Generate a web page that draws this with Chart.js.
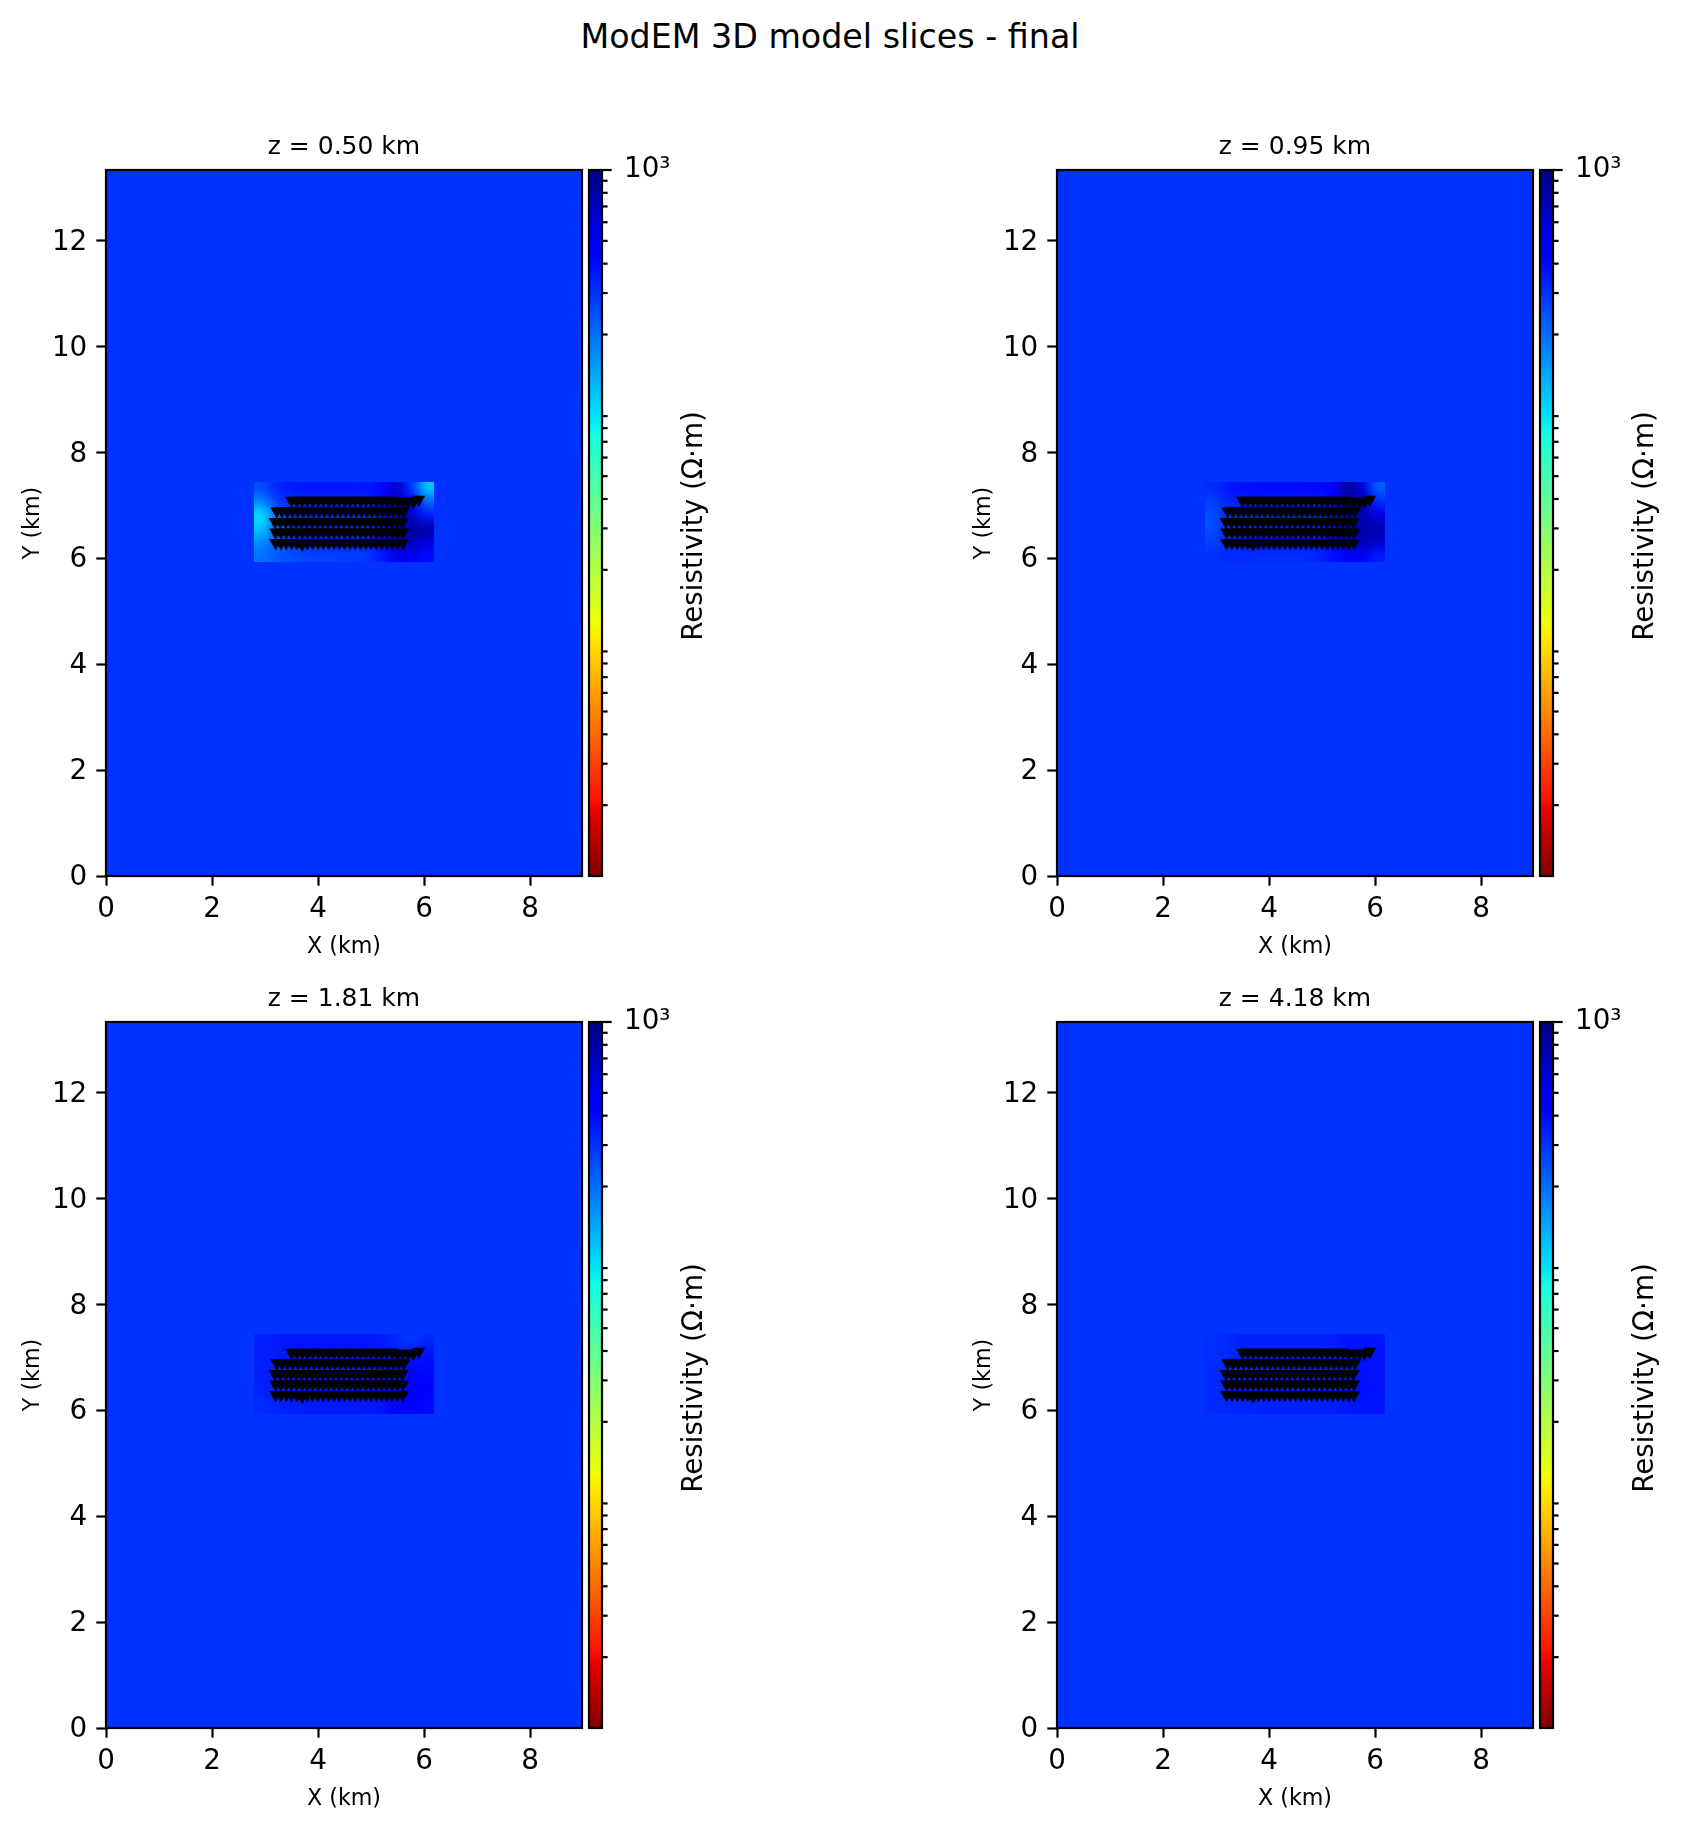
<!DOCTYPE html>
<html><head><meta charset="utf-8">
<script src="https://cdn.jsdelivr.net/npm/chart.js@4.4.1/dist/chart.umd.min.js"></script>
<style>
html,body{margin:0;padding:0;background:#fff;}
body{width:1682px;height:1827px;position:relative;overflow:hidden;font-family:'DejaVu Sans',sans-serif;}
canvas{position:absolute;}
#sup{position:absolute;left:0;width:1660px;top:20px;text-align:center;font-size:33.3px;line-height:1;color:#000;white-space:nowrap;font-family:'DejaVu Sans',sans-serif;}
</style></head><body>
<div id="sup">ModEM 3D model slices - final</div>
<script>
// ---------------- DATA ----------------
const suptitle = 'ModEM 3D model slices - final';
const sliceTitles = ['z = 0.50 km', 'z = 0.95 km', 'z = 1.81 km', 'z = 4.18 km'];
const xAxisLabel = 'X (km)';
const yAxisLabel = 'Y (km)';
const cbarLabel = 'Resistivity (Ω·m)';

// model mesh extent (km) = axis limits
const meshX = [0, 8.98];
const meshY = [0, 13.33];
// background (padding cells) log10 resistivity per slice
const backgroundLog10Rho = [2.477, 2.477, 2.477, 2.477];

// core (station) region extent (km)
const patchX = [2.80, 6.19];
const patchY = [5.92, 7.44];

// core region log10 resistivity, rows from north (top) to south, columns west to east
const slice1Log10Rho = [
  [2.40, 2.51, 2.55, 2.56, 2.56, 2.56, 2.56, 2.56, 2.60, 2.80, 2.47, 2.06],
  [2.21, 2.44, 2.50, 2.52, 2.52, 2.52, 2.52, 2.52, 2.60, 2.78, 2.70, 2.33],
  [1.99, 2.30, 2.48, 2.50, 2.50, 2.50, 2.50, 2.50, 2.60, 2.80, 2.80, 2.55],
  [2.06, 2.33, 2.48, 2.50, 2.50, 2.50, 2.50, 2.50, 2.60, 2.85, 2.90, 2.90],
  [2.21, 2.38, 2.46, 2.50, 2.50, 2.50, 2.50, 2.50, 2.60, 2.80, 2.85, 2.75],
  [2.29, 2.36, 2.40, 2.42, 2.44, 2.44, 2.45, 2.47, 2.55, 2.72, 2.70, 2.60]
];
const slice2Log10Rho = [
  [2.50, 2.56, 2.58, 2.59, 2.59, 2.59, 2.59, 2.60, 2.65, 2.92, 2.75, 2.36],
  [2.44, 2.52, 2.55, 2.55, 2.55, 2.55, 2.55, 2.55, 2.62, 2.88, 2.85, 2.51],
  [2.40, 2.50, 2.55, 2.55, 2.55, 2.55, 2.55, 2.55, 2.62, 2.85, 2.88, 2.74],
  [2.40, 2.50, 2.55, 2.55, 2.55, 2.55, 2.55, 2.55, 2.62, 2.85, 2.90, 2.87],
  [2.44, 2.50, 2.53, 2.55, 2.55, 2.55, 2.55, 2.55, 2.62, 2.80, 2.85, 2.80],
  [2.48, 2.50, 2.50, 2.50, 2.50, 2.50, 2.50, 2.52, 2.58, 2.68, 2.68, 2.55]
];
const slice3Log10Rho = [
  [2.53, 2.55, 2.56, 2.56, 2.56, 2.56, 2.56, 2.56, 2.55, 2.50, 2.47, 2.52],
  [2.53, 2.55, 2.56, 2.56, 2.56, 2.56, 2.56, 2.56, 2.56, 2.56, 2.55, 2.58],
  [2.53, 2.55, 2.56, 2.56, 2.56, 2.56, 2.56, 2.56, 2.58, 2.60, 2.60, 2.60],
  [2.53, 2.55, 2.56, 2.56, 2.56, 2.56, 2.56, 2.56, 2.58, 2.60, 2.62, 2.62],
  [2.52, 2.54, 2.55, 2.56, 2.56, 2.56, 2.56, 2.56, 2.58, 2.62, 2.63, 2.62],
  [2.50, 2.52, 2.54, 2.55, 2.55, 2.55, 2.55, 2.55, 2.57, 2.62, 2.64, 2.60]
];
const slice4Log10Rho = [
  [2.49, 2.51, 2.53, 2.53, 2.53, 2.53, 2.53, 2.53, 2.54, 2.57, 2.57, 2.56],
  [2.49, 2.51, 2.53, 2.53, 2.53, 2.53, 2.53, 2.53, 2.54, 2.57, 2.58, 2.57],
  [2.50, 2.52, 2.53, 2.53, 2.53, 2.53, 2.53, 2.53, 2.54, 2.57, 2.58, 2.57],
  [2.50, 2.52, 2.53, 2.53, 2.53, 2.53, 2.53, 2.53, 2.54, 2.57, 2.58, 2.57],
  [2.50, 2.52, 2.53, 2.53, 2.53, 2.53, 2.53, 2.53, 2.54, 2.57, 2.58, 2.57],
  [2.50, 2.51, 2.52, 2.53, 2.53, 2.53, 2.53, 2.53, 2.54, 2.56, 2.57, 2.56]
];

// MT stations (km)
const stRow1X = [3.50,3.60,3.70,3.80,3.90,4.00,4.10,4.20,4.30,4.40,4.50,4.60,4.70,4.80,4.90,5.00,5.10,5.20,5.30,5.40,5.50,5.60,5.70,5.80,5.90];
const stRow1Y = [7.09,7.09,7.09,7.09,7.09,7.09,7.09,7.09,7.09,7.09,7.09,7.09,7.09,7.09,7.09,7.09,7.09,7.09,7.09,7.09,7.07,7.07,7.07,7.07,7.11];
const stRow2X = [3.22,3.32,3.42,3.52,3.62,3.72,3.82,3.92,4.02,4.12,4.22,4.32,4.42,4.52,4.62,4.72,4.82,4.92,5.02,5.12,5.22,5.32,5.42,5.52,5.62];
const stRow2Y = [6.89,6.89,6.89,6.89,6.89,6.89,6.89,6.89,6.89,6.89,6.89,6.89,6.89,6.89,6.89,6.89,6.89,6.89,6.89,6.89,6.89,6.89,6.89,6.89,6.89];
const stRow3X = [3.19,3.29,3.39,3.49,3.59,3.69,3.79,3.89,3.99,4.09,4.19,4.29,4.39,4.49,4.59,4.69,4.79,4.89,4.99,5.09,5.19,5.29,5.39,5.49,5.59];
const stRow3Y = [6.69,6.69,6.69,6.69,6.69,6.69,6.69,6.69,6.69,6.69,6.69,6.69,6.69,6.69,6.69,6.69,6.69,6.69,6.69,6.69,6.69,6.69,6.69,6.69,6.69];
const stRow4X = [3.20,3.30,3.40,3.50,3.60,3.70,3.80,3.90,4.00,4.10,4.20,4.30,4.40,4.50,4.60,4.70,4.80,4.90,5.00,5.10,5.20,5.30,5.40,5.50,5.60];
const stRow4Y = [6.49,6.49,6.49,6.49,6.49,6.49,6.49,6.49,6.49,6.49,6.49,6.49,6.49,6.49,6.49,6.49,6.49,6.49,6.49,6.49,6.49,6.49,6.49,6.49,6.49];
const stRow5X = [3.20,3.30,3.40,3.50,3.60,3.70,3.80,3.90,4.00,4.10,4.20,4.30,4.40,4.50,4.60,4.70,4.80,4.90,5.00,5.10,5.20,5.30,5.40,5.50,5.60];
const stRow5Y = [6.29,6.29,6.29,6.29,6.29,6.26,6.29,6.29,6.29,6.29,6.29,6.29,6.29,6.29,6.29,6.29,6.29,6.29,6.29,6.29,6.29,6.29,6.29,6.29,6.29];

// colorbar (log scale, Ω·m)
const cbarMin = 1;
const cbarMax = 1000;
const cbarTickValues = [2,3,4,5,6,7,8,9,20,30,40,50,60,70,80,90,200,300,400,500,600,700,800,900,1000];
const cbarLabelledTicks = { 1000: '10³' };

// ---------------- STYLE / LAYOUT ----------------
const FONT = "'DejaVu Sans', sans-serif";
Chart.defaults.font.family = FONT;
Chart.defaults.color = '#000';
const SPINE = 2.2, TICK_MAJ = 9.7, TICK_MIN = 5.6;
const AREA_W = 476, AREA_H = 706;
const panelPos = [ {left:106, top:170}, {left:1057, top:170}, {left:106, top:1022}, {left:1057, top:1022} ];
const CBAR_GAP = 7, CBAR_W = 13;

// matplotlib "jet" segment data, used reversed (jet_r)
const JET = {
  r: [[0,0],[0.35,0],[0.66,1],[0.89,1],[1,0.5]],
  g: [[0,0],[0.125,0],[0.375,1],[0.64,1],[0.91,0],[1,0]],
  b: [[0,0.5],[0.11,1],[0.34,1],[0.65,0],[1,0]]
};
function seg(p, t) {
  for (let i = 1; i < p.length; i++) {
    if (t <= p[i][0]) { const [t0,v0] = p[i-1], [t1,v1] = p[i]; return v0 + (v1-v0)*(t-t0)/(t1-t0); }
  }
  return p[p.length-1][1];
}
const LMIN = Math.log10(cbarMin), LMAX = Math.log10(cbarMax);
function rgbFor(logv) {
  let f = (logv - LMIN) / (LMAX - LMIN); f = Math.max(0, Math.min(1, f));
  const t = 1 - f;
  return [Math.round(255*seg(JET.r,t)), Math.round(255*seg(JET.g,t)), Math.round(255*seg(JET.b,t))];
}
function cssFor(logv) { const c = rgbFor(logv); return `rgb(${c[0]},${c[1]},${c[2]})`; }

// ---------------- PLUGINS ----------------
const heatPlugin = {
  id: 'heat',
  beforeDatasetsDraw(chart, args, opts) {
    const {ctx, chartArea: a, scales: {x, y}} = chart;
    ctx.save();
    ctx.beginPath(); ctx.rect(a.left, a.top, a.right - a.left, a.bottom - a.top); ctx.clip();
    const bx0 = x.getPixelForValue(opts.meshX[0]), bx1 = x.getPixelForValue(opts.meshX[1]);
    const by0 = y.getPixelForValue(opts.meshY[1]), by1 = y.getPixelForValue(opts.meshY[0]);
    ctx.fillStyle = cssFor(opts.bg);
    ctx.fillRect(bx0, by0, bx1 - bx0, by1 - by0);
    const g = opts.grid, rows = g.length, cols = g[0].length;
    const off = document.createElement('canvas'); off.width = cols; off.height = rows;
    const octx = off.getContext('2d'); const img = octx.createImageData(cols, rows);
    for (let r = 0; r < rows; r++) for (let c = 0; c < cols; c++) {
      const k = (r*cols + c)*4, col = rgbFor(g[r][c]);
      img.data[k] = col[0]; img.data[k+1] = col[1]; img.data[k+2] = col[2]; img.data[k+3] = 255;
    }
    octx.putImageData(img, 0, 0);
    const px0 = x.getPixelForValue(opts.patchX[0]), px1 = x.getPixelForValue(opts.patchX[1]);
    const py0 = y.getPixelForValue(opts.patchY[1]), py1 = y.getPixelForValue(opts.patchY[0]);
    ctx.imageSmoothingEnabled = true; ctx.imageSmoothingQuality = 'high';
    ctx.drawImage(off, px0, py0, px1 - px0, py1 - py0);
    ctx.restore();
  },
  afterDatasetsDraw(chart) {
    const {ctx, chartArea: a} = chart;
    ctx.save(); ctx.strokeStyle = '#000'; ctx.lineWidth = SPINE;
    ctx.strokeRect(a.left, a.top, a.right - a.left, a.bottom - a.top);
    ctx.restore();
  }
};

const cbarPlugin = {
  id: 'cbar',
  afterDraw(chart, args, opts) {
    const {ctx, chartArea: a, scales: {y}} = chart;
    ctx.save();
    for (let py = Math.floor(a.top); py < Math.ceil(a.bottom); py++) {
      const v = y.getValueForPixel(Math.min(Math.max(py + 0.5, a.top), a.bottom));
      ctx.fillStyle = cssFor(Math.log10(v));
      ctx.fillRect(a.left, py, a.right - a.left, 1);
    }
    ctx.strokeStyle = '#000'; ctx.lineWidth = SPINE;
    ctx.strokeRect(a.left, a.top, a.right - a.left, a.bottom - a.top);
    y.ticks.forEach(t => {
      const p = y.getPixelForValue(t.value);
      const len = (t.value in cbarLabelledTicks) ? TICK_MAJ : TICK_MIN;
      ctx.beginPath(); ctx.moveTo(a.right, p); ctx.lineTo(a.right + len, p); ctx.stroke();
    });
    ctx.fillStyle = '#000';
    ctx.font = `27.8px ${FONT}`;
    ctx.textAlign = 'center'; ctx.textBaseline = 'middle';
    ctx.translate(a.right + 93, (a.top + a.bottom) / 2 + 3);
    ctx.rotate(-Math.PI / 2);
    ctx.fillText(opts.label, 0, 0);
    ctx.restore();
  }
};

// ---------------- BUILD ----------------
const sliceGrids = [slice1Log10Rho, slice2Log10Rho, slice3Log10Rho, slice4Log10Rho];
const stationRows = [[stRow1X, stRow1Y], [stRow2X, stRow2Y], [stRow3X, stRow3Y], [stRow4X, stRow4Y], [stRow5X, stRow5Y]];
const stationPoints = [];
stationRows.forEach(([xs, ys]) => xs.forEach((xv, i) => stationPoints.push({x: xv, y: ys[i]})));

function makePanel(i) {
  const P = panelPos[i];
  const pad = 10, yW = 86, xH = 85, titleH = 38;
  const cv = document.createElement('canvas');
  cv.width = pad + yW + AREA_W + pad; cv.height = pad + titleH + AREA_H + xH + pad;
  cv.style.left = (P.left - pad - yW) + 'px'; cv.style.top = (P.top - pad - titleH) + 'px';
  document.body.appendChild(cv);
  const axisCommon = {
    type: 'linear',
    grid: { display: true, drawOnChartArea: false, drawTicks: true, tickLength: TICK_MAJ, tickWidth: SPINE, tickColor: '#000' },
    border: { display: false },
  };
  const chart = new Chart(cv, {
    type: 'scatter',
    data: { datasets: [{
      data: stationPoints,
      pointStyle: 'triangle', rotation: 180, pointRadius: 7.5, pointHoverRadius: 7.5,
      backgroundColor: '#000', borderWidth: 0, showLine: false
    }]},
    options: {
      responsive: false, animation: false, events: [],
      layout: { padding: pad },
      plugins: {
        legend: { display: false }, tooltip: { enabled: false },
        title: { display: true, text: sliceTitles[i], color: '#000', fullSize: false,
                 font: { family: FONT, size: 25, weight: 'normal', lineHeight: 1.2 }, padding: { top: 0, bottom: 8 } },
        heat: { meshX, meshY, bg: backgroundLog10Rho[i], grid: sliceGrids[i], patchX, patchY }
      },
      scales: {
        x: Object.assign({}, axisCommon, {
          position: 'bottom', min: meshX[0], max: meshX[1],
          ticks: { stepSize: 2, includeBounds: false, autoSkip: false, maxRotation: 0, color: '#000', padding: 7,
                   font: { family: FONT, size: 27.8 } },
          title: { display: true, text: xAxisLabel, color: '#000', font: { family: FONT, size: 22.2, lineHeight: 1.2 }, padding: 0 },
          afterFit: s => { s.height = xH; }
        }),
        y: Object.assign({}, axisCommon, {
          position: 'left', min: meshY[0], max: meshY[1],
          ticks: { stepSize: 2, includeBounds: false, autoSkip: false, color: '#000', padding: 9, labelOffset: 2,
                   font: { family: FONT, size: 27.8 } },
          title: { display: true, text: yAxisLabel, color: '#000', font: { family: FONT, size: 22.2, lineHeight: 1.2 }, padding: 0 },
          afterFit: s => { s.width = yW; }
        })
      }
    },
    plugins: [heatPlugin]
  });
  const ca = chart.chartArea;
  cv.style.left = (P.left - ca.left) + 'px';
  cv.style.top = (P.top - ca.top) + 'px';
  makeColorbar(P);
}

function makeColorbar(P) {
  const padX = 5, padY = 60, axW = 140;
  const left = P.left + AREA_W + CBAR_GAP, top = P.top;
  const cv = document.createElement('canvas');
  cv.width = padX + CBAR_W + axW + padX; cv.height = padY + AREA_H + padY;
  cv.style.left = (left - padX) + 'px'; cv.style.top = (top - padY) + 'px';
  document.body.appendChild(cv);
  const chart = new Chart(cv, {
    type: 'scatter',
    data: { datasets: [] },
    options: {
      responsive: false, animation: false, events: [],
      layout: { padding: { left: padX, right: padX, top: padY, bottom: padY } },
      plugins: { legend: { display: false }, tooltip: { enabled: false }, cbar: { label: cbarLabel } },
      scales: {
        x: { display: false, min: 0, max: 1 },
        y: {
          type: 'logarithmic', position: 'right', min: cbarMin, max: cbarMax,
          grid: { display: false, drawTicks: false },
          border: { display: false },
          afterBuildTicks: s => { s.ticks = cbarTickValues.map(v => ({ value: v })); },
          ticks: { autoSkip: false, color: '#000', padding: 22, font: { family: FONT, size: 27.8 },
                   callback: v => (cbarLabelledTicks[v] || '') },
          afterFit: s => { s.width = axW; }
        }
      }
    },
    plugins: [cbarPlugin]
  });
  const ca = chart.chartArea;
  cv.style.left = (left - ca.left) + 'px';
  cv.style.top = (top - ca.top) + 'px';
}

document.getElementById('sup').textContent = suptitle;
for (let i = 0; i < 4; i++) makePanel(i);
</script></body></html>
